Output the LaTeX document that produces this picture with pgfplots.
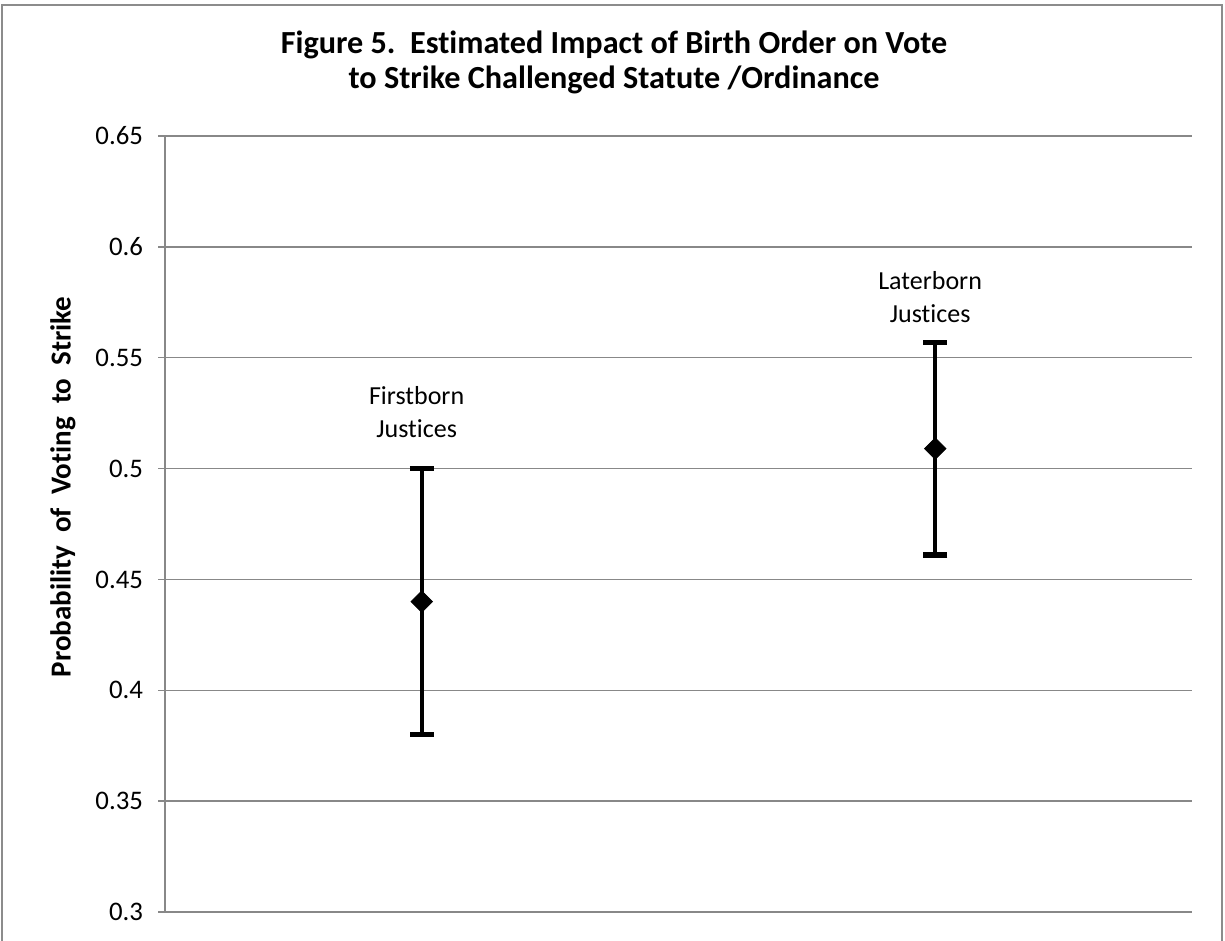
\documentclass[border=0pt]{standalone}
\usepackage{pgfplots}
\pgfplotsset{compat=1.18}
\usepackage{fontspec}
\setmainfont{Carlito}[Ligatures=NoCommon]
\definecolor{gridgray}{HTML}{888888}
\definecolor{bordergray}{HTML}{8C8C8C}
\begin{document}
\begin{tikzpicture}[x=1pt,y=1pt]
\useasboundingbox (-82.5,-14.5) rectangle (530,456);
\draw[bordergray,line width=1.1pt] (-81.5,-16) -- (-81.5,453.5) -- (528.5,453.5) -- (528.5,-16);
\begin{axis}[
  at={(0,0)}, anchor=south west,
  scale only axis, width=513.5pt, height=388pt,
  xmin=0.5, xmax=2.5, ymin=0.3, ymax=0.65,
  axis x line=bottom, axis y line=left,
  axis line style={gridgray,line width=0.75pt,-},
  xtick=\empty,
  ytick={0.3,0.35,...,0.66},
  yticklabels={0.3,0.35,0.4,0.45,0.5,0.55,0.6,0.65},
  ymajorgrids, grid style={gridgray,line width=0.75pt},
  tick align=outside, major tick length=3.5pt,
  ytick style={gridgray,line width=0.75pt},
  yticklabel style={font=\fontsize{13.4}{16}\selectfont, xshift=-4pt},
  /pgf/number format/assume math mode=true,
  clip=false,
]
\addplot[only marks, black, mark=square*, mark size=3.8pt, mark options={rotate=45,fill=black},
  error bars/.cd, y dir=both, y explicit,
  error bar style={line width=2pt,black},
  error mark options={rotate=90,line width=2.6pt,mark size=6pt,black}]
  coordinates {
  (1,0.440) +- (0,0.060)
  (2,0.509) +- (0,0.048)
};
\node[align=center,font=\fontsize{13}{16.5}\selectfont] at (axis cs:0.99,0.5255) {Firstborn\\Justices};
\node[align=center,font=\fontsize{13}{16.5}\selectfont] at (axis cs:1.99,0.5772) {Laterborn\\Justices};
\end{axis}
\node[align=center,font=\bfseries\fontsize{16.1}{17.5}\selectfont] at (224.5,424.75) {Figure 5.\ \ Estimated Impact of Birth Order on Vote\\to Strike Challenged Statute /Ordinance};
\node[rotate=90,font=\bfseries\fontsize{14.5}{17}\selectfont] at (-51,212.5) {Probability\hspace{0.45em}of\hspace{0.45em}Voting\hspace{0.45em}to\hspace{0.45em}Strike};
\end{tikzpicture}
\end{document}
